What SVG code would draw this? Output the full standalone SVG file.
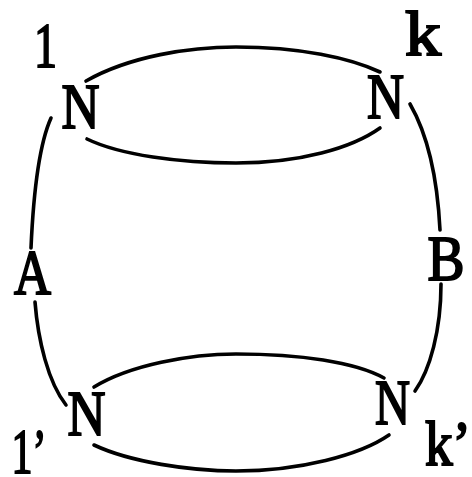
<svg xmlns="http://www.w3.org/2000/svg" width="472" height="477" viewBox="0 0 472 477">
<style>
.c{fill:none;stroke:#000;stroke-width:3.6;stroke-linecap:round}
.t{font-family:"Liberation Serif","Times New Roman",serif;font-size:64px;fill:#000;stroke:#000;stroke-width:2;text-anchor:middle}
</style>
<rect width="472" height="477" fill="#fff"/>
<g id="connectors">
<path class="c" d="M86,81 C130,56 190,47 236,47 C300,47 350,58 380,72"/>
<path class="c" d="M87,139 C120,155 180,163 236,163 C300,163 352,148 380,128"/>
<path class="c" d="M51,118 C42,138 34,180 31,248"/>
<path class="c" d="M35,302 C38,340 48,382 66,405"/>
<path class="c" d="M410,104 C425,130 437,170 440,230"/>
<path class="c" d="M441,284 C441,330 430,370 415,391"/>
<path class="c" d="M94,387 C130,365 190,354 236,354 C300,354 355,362 384,378"/>
<path class="c" d="M94,445 C130,462 190,471 236,471 C300,471 360,455 389,435"/>
</g>
<g id="node-N1"><text class="t" x="80.5" y="128" textLength="38" lengthAdjust="spacingAndGlyphs">N</text></g>
<g id="node-Nk"><text class="t" x="385.5" y="118" textLength="37" lengthAdjust="spacingAndGlyphs">N</text></g>
<g id="node-N1p"><text class="t" x="86.5" y="435" textLength="38" lengthAdjust="spacingAndGlyphs">N</text></g>
<g id="node-Nkp"><text class="t" x="392.5" y="424" textLength="35" lengthAdjust="spacingAndGlyphs">N</text></g>
<g id="node-A"><text class="t" x="32.5" y="294" textLength="37" lengthAdjust="spacingAndGlyphs">A</text></g>
<g id="node-B"><text class="t" x="446" y="280" textLength="37" lengthAdjust="spacingAndGlyphs">B</text></g>
<g id="labels">
<text class="t" x="45.5" y="67" textLength="23" lengthAdjust="spacingAndGlyphs">1</text>
<text class="t" x="423" y="55" textLength="36" lengthAdjust="spacingAndGlyphs">k</text>
<text class="t" x="29" y="473" textLength="35" lengthAdjust="spacingAndGlyphs">1’</text>
<text class="t" x="448" y="465" textLength="46" lengthAdjust="spacingAndGlyphs">k’</text>
</g>
</svg>
